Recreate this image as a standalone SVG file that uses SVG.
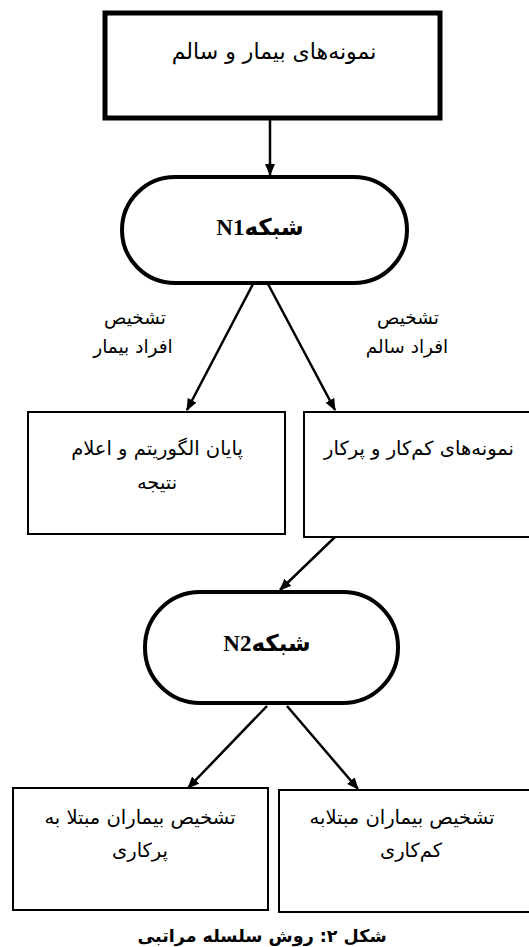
<svg xmlns="http://www.w3.org/2000/svg" width="529" height="947" viewBox="0 0 529 947">
<style>
.box{fill:#fff;stroke:#000;stroke-width:2}
.thick{fill:#fff;stroke:#000;stroke-width:5}
.stad{fill:#fff;stroke:#000;stroke-width:4}
.t{font-family:"DejaVu Sans",sans-serif;font-size:19.5px;fill:#000;text-anchor:middle;direction:rtl;unicode-bidi:embed}
.l{font-family:"DejaVu Sans",sans-serif;font-size:18.5px;fill:#000;text-anchor:middle;direction:rtl;unicode-bidi:embed}
.b{font-family:"Liberation Serif","DejaVu Sans",serif;font-size:23px;font-weight:bold;fill:#000;text-anchor:middle;direction:rtl;unicode-bidi:embed}
.c{font-family:"DejaVu Sans",sans-serif;font-size:17.5px;font-weight:bold;fill:#000;text-anchor:middle;direction:rtl;unicode-bidi:embed}
.ln{stroke:#000;stroke-width:2.5;fill:none;marker-end:url(#ah)}
</style>
<defs>
<marker id="ah" viewBox="0 0 12 10" refX="11" refY="5" markerWidth="12" markerHeight="10" markerUnits="userSpaceOnUse" orient="auto">
<path d="M0,0 L12,5 L0,10 Z" fill="#000"/>
</marker>
</defs>
<rect width="529" height="947" fill="#fff"/>
<g id="connectors">
<line class="ln" x1="270" y1="120" x2="270" y2="175"/>
<line class="ln" x1="253" y1="284" x2="187" y2="410"/>
<line class="ln" x1="268" y1="284" x2="335" y2="410"/>
<line class="ln" x1="335" y1="537" x2="280" y2="590"/>
<line class="ln" x1="267" y1="706" x2="188" y2="788"/>
<line class="ln" x1="287" y1="706" x2="358" y2="789"/>
</g>
<g id="labels">
<text class="l" x="135" y="324">تشخیص</text>
<text class="l" x="133" y="353">افراد بیمار</text>
<text class="l" x="408" y="324">تشخیص</text>
<text class="l" x="407" y="353">افراد سالم</text>
</g>
<g id="n-start">
<rect class="thick" x="105" y="13" width="335" height="105"/>
<text class="t" x="274" y="59" style="font-size:22px">نمونه‌های بیمار و سالم</text>
</g>
<g id="n-n1">
<rect class="stad" x="122" y="177" width="285" height="106" rx="53" ry="53"/>
<text class="b" x="260" y="235">شبکهN1</text>
</g>
<g id="n-end">
<rect class="box" x="28" y="412" width="257" height="122"/>
<text class="t" x="157" y="455">پایان الگوریتم و اعلام</text>
<text class="t" x="157" y="489">نتیجه</text>
</g>
<g id="n-samples">
<rect class="box" x="304" y="412" width="240" height="125"/>
<text class="t" x="419" y="455">نمونه‌های کم‌کار و پرکار</text>
</g>
<g id="n-n2">
<rect class="stad" x="145" y="592" width="253" height="111" rx="55" ry="55"/>
<text class="b" x="267" y="651">شبکهN2</text>
</g>
<g id="n-hyper">
<rect class="box" x="13" y="788" width="255" height="122"/>
<text class="t" x="140" y="824">تشخیص بیماران مبتلا به</text>
<text class="t" x="140" y="857">پرکاری</text>
</g>
<g id="n-hypo">
<rect class="box" x="279" y="790" width="265" height="122"/>
<text class="t" x="402" y="824">تشخیص بیماران مبتلابه</text>
<text class="t" x="411" y="857">کم‌کاری</text>
</g>
<text class="c" x="262" y="942">شکل ۲: روش سلسله مراتبی</text>
</svg>
